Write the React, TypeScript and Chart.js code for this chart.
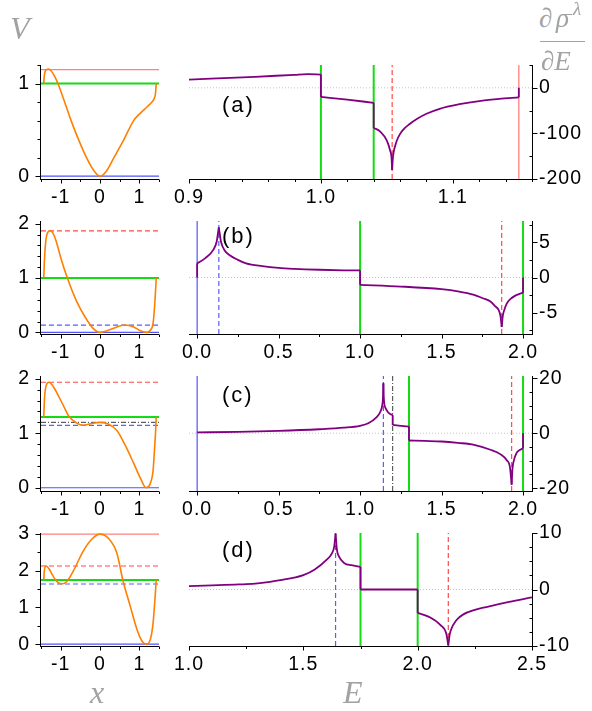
import React, { useEffect, useRef } from "react";
import { Chart, registerables } from "chart.js";

Chart.register(...registerables);

type Pt = [number, number];
type Mark = [number, string];

// ---------- V(x) curves ----------
const potA: Pt[] = [
  [-1.43, 1.0], [-1.415, 1.09], [-1.39, 1.135], [-1.35, 1.152], [-1.31, 1.155], [-1.25, 1.14],
  [-1.17, 1.09], [-1.07, 1.0], [-0.915, 0.82], [-0.735, 0.6], [-0.54, 0.39], [-0.33, 0.19],
  [-0.154, 0.06], [0, 0], [0.17, 0.06], [0.34, 0.19], [0.6, 0.39], [0.855, 0.6], [1.0, 0.67],
  [1.2, 0.75], [1.32, 0.8], [1.38, 0.84], [1.41, 0.89], [1.43, 1.0],
];
const potB: Pt[] = [
  [-1.43, 1.0], [-1.41, 1.37], [-1.37, 1.73], [-1.32, 1.85], [-1.27, 1.873], [-1.2, 1.83],
  [-1.11, 1.67], [-1.0, 1.38], [-0.83, 1.0], [-0.6, 0.58], [-0.36, 0.26], [-0.17, 0.07], [0, 0],
  [0.2, 0.035], [0.43, 0.1], [0.64, 0.135], [0.855, 0.1], [1.03, 0.03], [1.18, 0], [1.28, 0.04],
  [1.35, 0.17], [1.39, 0.5], [1.415, 0.8], [1.43, 1.0],
];
const potC: Pt[] = [
  [-1.43, 1.3], [-1.41, 1.65], [-1.37, 1.87], [-1.3, 1.935], [-1.22, 1.89], [-1.11, 1.76],
  [-0.94, 1.52], [-0.79, 1.31], [-0.6, 1.19], [-0.43, 1.145], [-0.21, 1.18], [0, 1.2],
  [0.21, 1.17], [0.43, 1.05], [0.64, 0.78], [0.855, 0.45], [1.03, 0.17], [1.17, 0], [1.28, 0.08],
  [1.35, 0.32], [1.39, 0.75], [1.415, 1.05], [1.43, 1.3],
];
const potD: Pt[] = [
  [-1.43, 1.75], [-1.415, 2.0], [-1.39, 2.12], [-1.37, 2.13], [-1.3, 2.06], [-1.2, 1.87],
  [-1.1, 1.71], [-0.98, 1.64], [-0.85, 1.7], [-0.68, 1.99], [-0.43, 2.53], [-0.21, 2.86], [0, 3.0],
  [0.21, 2.89], [0.43, 2.48], [0.58, 1.75], [0.77, 1.03], [0.94, 0.4], [1.07, 0.08], [1.17, 0],
  [1.28, 0.13], [1.35, 0.58], [1.39, 1.12], [1.43, 1.75],
];

// horizontal reference energies on V(x)
const levelsA: Mark[] = [[1.15, "redSolid"], [1.0, "green"], [0, "blueSolid"]];
const levelsB: Mark[] = [[1.87, "redDash"], [1.0, "green"], [0.135, "blueDash"], [0, "blueSolid"]];
const levelsC: Mark[] = [[1.935, "redDash"], [1.3, "green"], [1.2, "dashDot"], [1.145, "blueDash"], [0, "blueSolid"]];
const levelsD: Mark[] = [[3.0, "redSolid"], [2.13, "redDash"], [1.75, "green"], [1.64, "blueDash"], [0, "blueSolid"]];

// vertical reference energies on d(rho)/dE
const marksA: Mark[] = [[1.0, "green"], [1.04, "green"], [1.054, "redDash"], [1.15, "redSolid"]];
const marksB: Mark[] = [[0, "blueSolid"], [0.133, "blueDash"], [1.0, "green"], [1.869, "redDash"], [2.0, "green"]];
const marksC: Mark[] = [[0, "blueSolid"], [1.143, "blueDash"], [1.2, "dashDot"], [1.3, "green"], [1.93, "redDash"], [2.0, "green"]];
const marksD: Mark[] = [[1.641, "blueDash"], [1.75, "green"], [2.0, "green"], [2.134, "redDash"]];

// ---------- d(rho)/dE branches (continuous pieces) ----------
const dosA: Pt[][] = [
  [[0.9, 18], [0.95, 24], [0.98, 28.5], [0.99, 29.8], [1.0, 29]],
  [[1.0, -20], [1.02, -26], [1.04, -33]],
  [[1.04, -88], [1.045, -96], [1.05, -116], [1.0525, -138], [1.0535, -152], [1.054, -180]],
  [[1.054, -180], [1.0545, -155], [1.0552, -140], [1.0562, -128], [1.0575, -116], [1.06, -101],
   [1.0626, -91], [1.067, -80], [1.073, -68], [1.08, -57], [1.09, -46], [1.105, -36], [1.12, -29],
   [1.135, -24.5], [1.15, -21]],
];
const dosB: Pt[][] = [
  [[0, 2.0], [0.05, 2.75], [0.1, 3.95], [0.12, 5.1], [0.128, 6.3], [0.133, 7.1]],
  [[0.133, 7.1], [0.138, 6.3], [0.146, 5.1], [0.17, 3.8], [0.2, 3.15], [0.25, 2.5], [0.3, 2.0],
   [0.4, 1.6], [0.5, 1.35], [0.6, 1.22], [0.75, 1.1], [0.9, 1.02], [1.0, 1.0]],
  [[1.0, -1.04], [1.25, -1.28], [1.5, -1.66], [1.6, -1.95], [1.7, -2.45], [1.75, -2.9],
   [1.8, -3.4], [1.83, -4.1], [1.85, -4.6], [1.862, -5.5], [1.869, -7.0]],
  [[1.869, -7.0], [1.876, -5.4], [1.885, -4.6], [1.9, -3.7], [1.925, -3.0], [1.95, -2.6],
   [1.975, -2.35], [2.0, -2.15]],
];
const dosC: Pt[][] = [
  [[0, 0.3], [0.25, 0.5], [0.5, 0.85], [0.75, 1.45], [0.9, 2.0], [1.0, 2.7], [1.05, 3.6],
   [1.1, 5.8], [1.125, 7.9], [1.136, 10.2], [1.141, 13.5], [1.143, 18.2]],
  [[1.143, 18.2], [1.145, 13.5], [1.149, 10.5], [1.155, 9.3], [1.17, 7.7], [1.185, 7.0], [1.2, 6.6]],
  [[1.2, 3.0], [1.25, 2.7], [1.3, 2.4]],
  [[1.3, -2.65], [1.4, -2.8], [1.5, -3.0], [1.6, -3.5], [1.7, -4.2], [1.8, -6.0], [1.86, -7.6],
   [1.9, -9.8], [1.92, -12.5], [1.93, -18.7]],
  [[1.93, -18.7], [1.935, -13], [1.94, -10.8], [1.96, -7.2], [1.98, -6.1], [2.0, -5.5]],
];
const dosD: Pt[][] = [
  [[1.0, 0.6], [1.1, 0.72], [1.2, 0.88], [1.25, 0.95], [1.3, 1.1], [1.4, 1.65], [1.5, 2.55],
   [1.55, 3.55], [1.6, 5.2], [1.625, 6.4], [1.635, 7.6], [1.641, 9.9]],
  [[1.641, 9.9], [1.647, 7.0], [1.655, 5.9], [1.68, 4.65], [1.71, 4.3], [1.75, 4.0]],
  [[1.75, 0], [2.0, 0]],
  [[2.0, -4.15], [2.05, -4.85], [2.1, -6.3], [2.125, -7.8], [2.134, -9.9]],
  [[2.134, -9.9], [2.14, -8.0], [2.145, -7.2], [2.17, -5.4], [2.2, -4.4], [2.25, -3.6],
   [2.3, -3.1], [2.4, -2.2], [2.5, -1.4]],
];
// steps at the ends of the branches
const edgesA: Pt[][] = [[[1.15, -21], [1.15, 0]]];
const edgesB: Pt[][] = [[[0, 0], [0, 2.0]], [[2.0, -2.15], [2.0, 0]]];
const edgesC: Pt[][] = [[[2.0, -5.5], [2.0, 0]]];
const edgesD: Pt[][] = [];

// ---------- axes ----------
const xRange: Pt = [-1.5, 1.5];
const xLabels = ["-1", "0", "1"];
const vRangeA: Pt = [-0.03, 1.2];
const vRangeB: Pt = [-0.03, 2.05];
const vRangeC: Pt = [-0.06, 2.05];
const vRangeD: Pt = [-0.05, 3.03];
const vLabelsA = ["0", "1"];
const vLabelsB = ["0", "1", "2"];
const vLabelsC = ["0", "1", "2"];
const vLabelsD = ["0", "1", "2", "3"];

const eRangeA: Pt = [0.9, 1.16];
const eRangeB: Pt = [-0.05, 2.055];
const eRangeC: Pt = [-0.05, 2.055];
const eRangeD: Pt = [1.0, 2.5];
const eLabelsA = ["0.9", "1.0", "1.1"];
const eLabelsB = ["0.0", "0.5", "1.0", "1.5", "2.0"];
const eLabelsC = ["0.0", "0.5", "1.0", "1.5", "2.0"];
const eLabelsD = ["1.0", "1.5", "2.0", "2.5"];
const dRangeA: Pt = [-200, 50];
const dRangeB: Pt = [-8, 8];
const dRangeC: Pt = [-21, 20.8];
const dRangeD: Pt = [-10, 10];
const dLabelsA = ["-200", "-100", "0"];
const dLabelsB = ["-5", "0", "5"];
const dLabelsC = ["-20", "0", "20"];
const dLabelsD = ["-10", "0", "10"];

const STYLE: Record<string, { color: string; width: number; dash: number[] }> = {
  green: { color: "#14dc14", width: 2, dash: [] },
  redSolid: { color: "#ff8080", width: 1.3, dash: [] },
  redDash: { color: "#ff4a4a", width: 1.2, dash: [5, 3] },
  blueSolid: { color: "#5252ff", width: 1.2, dash: [] },
  blueDash: { color: "#5c5cff", width: 1.2, dash: [5, 3] },
  dashDot: { color: "#3a3a3a", width: 1, dash: [5, 2, 1, 2] },
};

const TICK_FONT = { family: "'Liberation Sans', Arial, sans-serif", size: 19.5 };
const PURPLE = "#800080";
const ORANGE = "#ff7f00";

// page geometry of the plot areas
const ROWS = [
  { top: 65, h: 114 },
  { top: 221, h: 113 },
  { top: 376, h: 115 },
  { top: 533, h: 113 },
];
const PAD_TOP = 20;
const X_AXIS_H = 30;

const panels = [
  { pot: potA, levels: levelsA, vRange: vRangeA, vLabels: vLabelsA, vStep: 0.2,
    dos: dosA, edges: edgesA, marks: marksA, eRange: eRangeA, eLabels: eLabelsA, eStep: 0.02,
    dRange: dRangeA, dLabels: dLabelsA, dStep: 50, tag: "(a)", tagTop: 94 },
  { pot: potB, levels: levelsB, vRange: vRangeB, vLabels: vLabelsB, vStep: 0.2,
    dos: dosB, edges: edgesB, marks: marksB, eRange: eRangeB, eLabels: eLabelsB, eStep: 0.25,
    dRange: dRangeB, dLabels: dLabelsB, dStep: 2.5, tag: "(b)", tagTop: 225 },
  { pot: potC, levels: levelsC, vRange: vRangeC, vLabels: vLabelsC, vStep: 0.2,
    dos: dosC, edges: edgesC, marks: marksC, eRange: eRangeC, eLabels: eLabelsC, eStep: 0.25,
    dRange: dRangeC, dLabels: dLabelsC, dStep: 5, tag: "(c)", tagTop: 384 },
  { pot: potD, levels: levelsD, vRange: vRangeD, vLabels: vLabelsD, vStep: 0.5,
    dos: dosD, edges: edgesD, marks: marksD, eRange: eRangeD, eLabels: eLabelsD, eStep: 0.25,
    dRange: dRangeD, dLabels: dLabelsD, dStep: 2.5, tag: "(d)", tagTop: 539 },
];

function lineDs(data: Pt[], color: string, width: number, dash: number[], order: number, smooth = false) {
  return {
    data: data.map(([x, y]) => ({ x, y })),
    borderColor: color,
    borderWidth: width,
    borderDash: dash,
    pointRadius: 0,
    fill: false,
    order,
    tension: 0,
    cubicInterpolationMode: smooth ? "monotone" : "default",
  };
}

function steps(min: number, max: number, step: number): number[] {
  const out: number[] = [];
  const k0 = Math.ceil(min / step - 1e-6);
  const k1 = Math.floor(max / step + 1e-6);
  for (let k = k0; k <= k1; k++) out.push(Math.round(k * step * 1e6) / 1e6);
  return out;
}

function scaleOpts(range: Pt, labels: string[], position: string, tickLength: number, padding: number,
                   size: { w?: number; h?: number }) {
  const major = labels.map(Number);
  return {
    type: "linear",
    position,
    min: range[0],
    max: range[1],
    afterBuildTicks: (ax: any) => { ax.ticks = major.map((v) => ({ value: v })); },
    afterFit: (ax: any) => {
      if (size.w != null) ax.width = size.w;
      if (size.h != null) ax.height = size.h;
    },
    ticks: {
      autoSkip: false, maxRotation: 0, minRotation: 0, padding, color: "#000", font: TICK_FONT,
      callback: (value: number) => {
        const i = major.findIndex((m) => Math.abs(m - value) < 1e-9);
        return i >= 0 ? labels[i] : "";
      },
    },
    grid: { display: true, drawOnChartArea: false, drawTicks: true, tickLength, color: "rgba(0,0,0,0)" },
    border: { display: false },
  };
}

// slightly looser spacing for the tick numerals
const spacingPlugin = {
  id: "numeralSpacing",
  beforeDraw(chart: any) {
    (chart.ctx as any).letterSpacing = "1px";
  },
};

// axis lines with major/minor tick marks
function framePlugin(side: "left" | "right", xStep: number, xMajor: number[], yStep: number, yMajor: number[]) {
  return {
    id: "frame",
    afterDraw(chart: any) {
      const { ctx, chartArea: a } = chart;
      const xs = chart.scales.x;
      const ys = chart.scales.y;
      const isMajor = (list: number[], v: number, s: number) => list.some((m) => Math.abs(m - v) < s * 1e-4);
      ctx.save();
      ctx.strokeStyle = "#000";
      ctx.lineWidth = 1;
      ctx.setLineDash([]);
      ctx.beginPath();
      const by = Math.round(a.bottom) + 0.5;
      const ax = side === "left" ? Math.round(a.left) - 0.5 : Math.round(a.right) + 0.5;
      ctx.moveTo(a.left - (side === "left" ? 1 : 0), by);
      ctx.lineTo(a.right + (side === "right" ? 1 : 0), by);
      ctx.moveTo(ax, a.top);
      ctx.lineTo(ax, by);
      for (const v of steps(xs.min, xs.max, xStep)) {
        const px = Math.round(xs.getPixelForValue(v)) + 0.5;
        const len = isMajor(xMajor, v, xStep) ? 4 : 2.5;
        ctx.moveTo(px, by);
        ctx.lineTo(px, by + len);
      }
      for (const v of steps(ys.min, ys.max, yStep)) {
        const py = Math.round(ys.getPixelForValue(v)) + 0.5;
        const maj = isMajor(yMajor, v, yStep);
        if (side === "left") {
          ctx.moveTo(ax, py);
          ctx.lineTo(ax - (maj ? 5 : 3), py);
        } else {
          ctx.moveTo(ax, py);
          ctx.lineTo(maj ? ax + 5 : ax - 3, py);
        }
      }
      ctx.stroke();
      ctx.restore();
    },
  };
}

function baseOptions(padding: any) {
  return {
    responsive: false,
    maintainAspectRatio: false,
    animation: false,
    events: [],
    layout: { padding },
    plugins: { legend: { display: false }, tooltip: { enabled: false }, title: { display: false } },
  };
}

function potentialConfig(p: (typeof panels)[number]) {
  const datasets: any[] = [lineDs(p.pot, ORANGE, 1.6, [], 0, true)];
  for (const [v, kind] of p.levels) {
    const s = STYLE[kind];
    datasets.push(lineDs([[xRange[0], v], [xRange[1], v]], s.color, s.width, s.dash, 1));
  }
  return {
    type: "line",
    data: { datasets },
    options: {
      ...baseOptions({ top: PAD_TOP, right: 6, left: 0, bottom: 0 }),
      scales: {
        x: scaleOpts(xRange, xLabels, "bottom", 4, 3, { h: X_AXIS_H }),
        y: scaleOpts(p.vRange, p.vLabels, "left", 5, 6, { w: 41 }),
      },
    },
    plugins: [spacingPlugin, framePlugin("left", 0.5, xLabels.map(Number), p.vStep, p.vLabels.map(Number))],
  };
}

function densityConfig(p: (typeof panels)[number]) {
  const datasets: any[] = [];
  p.dos.forEach((seg, i) => {
    datasets.push(lineDs(seg, PURPLE, 1.8, [], 0, true));
    const next = p.dos[i + 1];
    if (next) {
      const a = seg[seg.length - 1];
      const b = next[0];
      if (a[1] !== b[1]) datasets.push(lineDs([a, b], PURPLE, 1.8, [], 0));
    }
  });
  for (const e of p.edges) datasets.push(lineDs(e, PURPLE, 1.8, [], 0));
  for (const [E, kind] of p.marks) {
    const s = STYLE[kind];
    datasets.push(lineDs([[E, p.dRange[0]], [E, p.dRange[1]]], s.color, s.width, s.dash, 1));
  }
  datasets.push(lineDs([[p.eRange[0], 0], [p.eRange[1], 0]], "#c4c4c4", 1, [1, 2], 2));
  return {
    type: "line",
    data: { datasets },
    options: {
      ...baseOptions({ top: PAD_TOP, right: 0, left: 19, bottom: 0 }),
      scales: {
        x: scaleOpts(p.eRange, p.eLabels, "bottom", 4, 3, { h: X_AXIS_H }),
        y: scaleOpts(p.dRange, p.dLabels, "right", 4, 3, { w: 60 }),
      },
    },
    plugins: [spacingPlugin, framePlugin("right", p.eStep, p.eLabels.map(Number), p.dStep, p.dLabels.map(Number))],
  };
}

function ChartCanvas({ make, left, top, width, height }: { make: () => any; left: number; top: number; width: number; height: number }) {
  const ref = useRef<HTMLCanvasElement>(null);
  useEffect(() => {
    const chart = new Chart(ref.current as HTMLCanvasElement, make());
    return () => chart.destroy();
  }, []);
  return (
    <canvas
      ref={ref}
      width={width}
      height={height}
      style={{ position: "absolute", left, top, width, height }}
    />
  );
}

const serifItalic = "'Liberation Serif', 'DejaVu Serif', serif";
const gray = "#a2a2a2";

function Sym({ text, left, top, size }: { text: string; left: number; top: number; size: number }) {
  return (
    <div
      style={{
        position: "absolute", left, top, fontFamily: serifItalic, fontStyle: "italic",
        fontSize: size, lineHeight: `${size}px`, color: gray, whiteSpace: "nowrap",
      }}
    >
      {text}
    </div>
  );
}

export default function App() {
  return (
    <div style={{ position: "absolute", left: 0, top: 0, width: 592, height: 711, background: "#fff", overflow: "hidden" }}>
      {panels.map((p, i) => {
        const r = ROWS[i];
        const h = PAD_TOP + r.h + X_AXIS_H;
        return (
          <React.Fragment key={i}>
            <ChartCanvas make={() => potentialConfig(p)} left={0} top={r.top - PAD_TOP} width={165} height={h} />
            <ChartCanvas make={() => densityConfig(p)} left={170} top={r.top - PAD_TOP} width={422} height={h} />
            <div
              style={{
                position: "absolute", left: 222, top: p.tagTop, fontFamily: "'Liberation Sans', Arial, sans-serif",
                fontSize: 22, lineHeight: "22px", letterSpacing: 2, color: "#000",
              }}
            >
              {p.tag}
            </div>
          </React.Fragment>
        );
      })}
      <Sym text="V" left={10} top={12} size={32} />
      <Sym text="x" left={90} top={676} size={32} />
      <Sym text="E" left={343} top={676} size={32} />
      {/* d rho-bar^lambda / dE */}
      <Sym text="∂" left={539} top={5} size={27} />
      <Sym text="ρ" left={556} top={5} size={27} />
      <div style={{ position: "absolute", left: 562, top: 14, width: 10, height: 1.2, background: gray }} />
      <Sym text="λ" left={573} top={-1} size={19} />
      <div style={{ position: "absolute", left: 540, top: 41, width: 45, height: 1.3, background: gray }} />
      <Sym text="∂E" left={541} top={48} size={27} />
    </div>
  );
}
